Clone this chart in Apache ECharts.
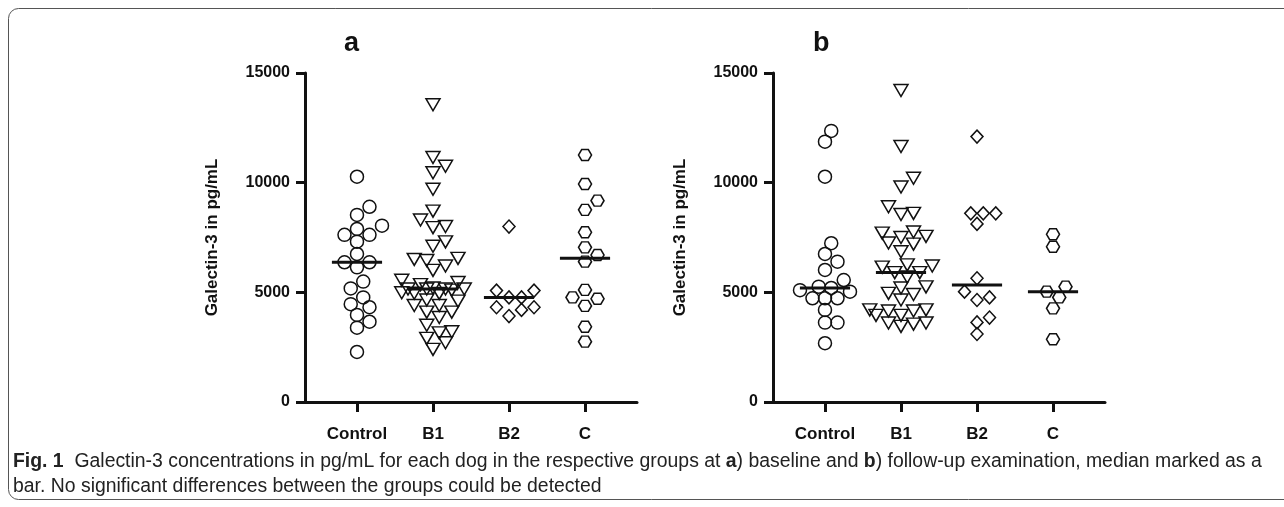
<!DOCTYPE html>
<html>
<head>
<meta charset="utf-8">
<script src="https://cdn.jsdelivr.net/npm/echarts@6/dist/echarts.min.js"></script>
<style>
  html, body { margin: 0; padding: 0; background: #fff; }
  #chart { width: 1284px; height: 507px; }
</style>
</head>
<body>
<div id="chart"></div>
<script>
// groups on the x axis
const categories = ["Control", "B1", "B2", "C"];
const yTicks = [0, 5000, 10000, 15000];

// a) baseline, pg/mL
const aControl = [10270, 8900, 8530, 8040, 7890, 7620, 7620, 7310, 6750, 6370, 6370, 6140, 5490, 5180, 4770, 4460, 4320, 3970, 3660, 3390, 2280];
const aB1 = [13550, 11150, 10750, 10450, 9700, 8700, 8300, 8000, 7950, 7300, 7100, 6550, 6500, 6450, 6200, 6000, 5550, 5450, 5350, 5200,
  5150, 5150, 5150, 5150, 5100, 4980, 4960, 4950, 4650, 4600, 4400, 4400, 4100, 4100, 3850, 3500, 3200, 3150, 2900, 2700, 2400];
const aB2 = [8000, 5080, 5080, 4770, 4770, 4320, 4320, 4200, 3920];
const aC = [11260, 9940, 9180, 8760, 7740, 7050, 6700, 6400, 5110, 4770, 4710, 4380, 3430, 2750];

// b) follow-up, pg/mL
const bControl = [12360, 11870, 10270, 7240, 6750, 6400, 6020, 5560, 5260, 5200, 5100, 5030, 4730, 4730, 4730, 4200, 3620, 3620, 2680];
const bB1 = [14200, 11650, 10200, 9800, 8900, 8600, 8550, 7750, 7700, 7550, 7500, 7250, 7200, 6850, 6250, 6200, 6150, 5900, 5900,
  5700, 5250, 5200, 4950, 4900, 4650, 4200, 4200, 4150, 4150, 3950, 3950, 3600, 3600, 3550, 3450];
const bB2 = [12100, 8600, 8600, 8600, 8120, 5640, 5030, 4770, 4650, 3850, 3630, 3100];
const bC = [7650, 7080, 5260, 5030, 4770, 4270, 2860];

const panels = [
  [aControl, aB1, aB2, aC],
  [bControl, bB1, bB2, bC]
];

const symbols = [
  { symbol: "circle", size: 13, rotate: 0 },
  { symbol: "triangle", size: [14, 12], rotate: 180 },
  { symbol: "diamond", size: [12, 13], rotate: 0 },
  { symbol: "path://M0,5L3,0L9,0L12,5L9,10L3,10Z", size: [13, 11], rotate: 0 }
];

// beeswarm: each value takes the closest free slot beside the column centre
const PX_X = 76;          // px per group
const PX_Y = 329 / 15000; // px per pg/mL
function swarm(values, center) {
  const sorted = values.slice().sort((p, q) => p - q);
  const placed = [];
  const half = 6.25, d = 11.5, maxK = 5;
  const cands = [0];
  for (let k = 1; k <= maxK; k++) cands.push(k * half, -k * half);
  sorted.forEach(v => {
    const y = v * PX_Y;
    let best = null, bestGap = -1;
    for (const c of cands) {
      let gap = Infinity;
      placed.forEach(p => {
        gap = Math.min(gap, Math.hypot(p[0] - c, p[1] - y));
      });
      if (gap >= d) { best = c; break; }
      if (gap > bestGap) { bestGap = gap; best = c; }
    }
    placed.push([best, y]);
  });
  return placed.map((p, i) => [center + p[0] / PX_X, sorted[i]]);
}

function median(values) {
  const s = values.slice().sort((p, q) => p - q);
  const m = Math.floor(s.length / 2);
  return s.length % 2 ? s[m] : (s[m - 1] + s[m]) / 2;
}

const font = "Liberation Sans, Arial, sans-serif";
const lefts = [305, 773];

const grid = lefts.map(l => ({ left: l, top: 73, width: 332, height: 329 }));

const xAxis = lefts.map((l, i) => ({
  type: "value",
  gridIndex: i,
  min: -0.684,
  max: 3.684,
  splitLine: { show: false },
  axisLine: { onZero: false, lineStyle: { color: "#111", width: 3 } },
  axisTick: { show: true, length: 10, lineStyle: { color: "#111", width: 3 }, customValues: [0, 1, 2, 3] },
  axisLabel: {
    customValues: [0, 1, 2, 3],
    formatter: v => categories[Math.round(v)],
    margin: 24,
    color: "#111",
    fontFamily: font,
    fontWeight: "bold",
    fontSize: 17
  }
}));

const yAxis = lefts.map((l, i) => ({
  type: "value",
  gridIndex: i,
  min: yTicks[0],
  max: yTicks[yTicks.length - 1],
  interval: 5000,
  name: "Galectin-3 in pg/mL",
  nameLocation: "middle",
  nameGap: 84,
  nameTextStyle: { color: "#111", fontFamily: font, fontWeight: "bold", fontSize: 17 },
  splitLine: { show: false },
  axisLine: { show: true, onZero: false, lineStyle: { color: "#111", width: 3 } },
  axisTick: { show: true, length: 9, lineStyle: { color: "#111", width: 3 } },
  axisLabel: { margin: 15, formatter: v => String(v), color: "#111", fontFamily: font, fontWeight: "bold", fontSize: 16 }
}));

const series = [];
panels.forEach((groups, p) => {
  groups.forEach((vals, g) => {
    series.push({
      type: "scatter",
      xAxisIndex: p,
      yAxisIndex: p,
      data: swarm(vals, g),
      symbol: symbols[g].symbol,
      symbolSize: symbols[g].size,
      symbolRotate: symbols[g].rotate,
      itemStyle: { color: "rgba(0,0,0,0)", borderColor: "#111", borderWidth: 1.5, opacity: 1 },
      silent: true,
      z: 2
    });
  });
  groups.forEach((vals, g) => {
    const m = median(vals);
    series.push({
      type: "line",
      xAxisIndex: p,
      yAxisIndex: p,
      data: [[g - 0.33, m], [g + 0.33, m]],
      symbol: "none",
      lineStyle: { color: "#111", width: 3 },
      silent: true,
      z: 3
    });
  });
});

const capFont = "Liberation Sans, Arial, sans-serif";

const chart = echarts.init(document.getElementById("chart"), null, { renderer: "canvas" });
chart.setOption({
  backgroundColor: "#fff",
  animation: false,
  grid: grid,
  xAxis: xAxis,
  yAxis: yAxis,
  series: series,
  graphic: [
    {
      type: "rect",
      shape: { x: 8.5, y: 8.5, width: 1320, height: 491, r: 10 },
      style: { fill: "none", stroke: "#555", lineWidth: 1 },
      silent: true
    },
    {
      type: "text", left: 344, top: 30,
      style: { text: "a", fill: "#111", font: "bold 27px " + font }
    },
    {
      type: "text", left: 813, top: 30,
      style: { text: "b", fill: "#111", font: "bold 27px " + font }
    },
    {
      type: "text", x: 13, y: 451, scaleX: 0.97,
      style: {
        text: "{b|Fig. 1}  Galectin-3 concentrations in pg/mL for each dog in the respective groups at {b|a}) baseline and {b|b}) follow-up examination, median marked as a",
        fill: "#222",
        fontFamily: capFont,
        fontSize: 20,
        rich: { b: { fontFamily: capFont, fontSize: 20, fontWeight: "bold", fill: "#222" } }
      }
    },
    {
      type: "text", x: 13, y: 476, scaleX: 0.97,
      style: {
        text: "bar. No significant differences between the groups could be detected",
        fill: "#222",
        fontFamily: capFont,
        fontSize: 20
      }
    }
  ]
});
</script>
</body>
</html>
